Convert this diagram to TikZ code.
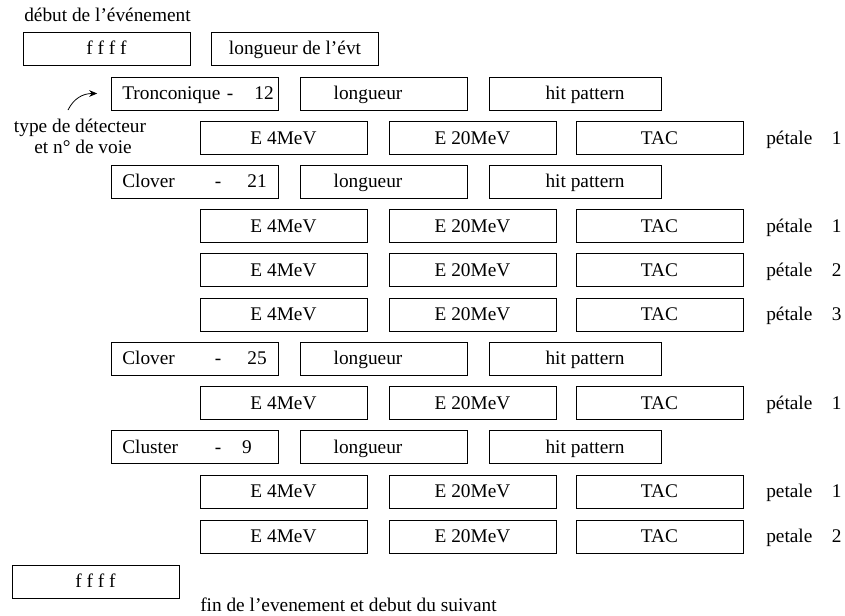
\documentclass[tikz,border=0pt]{standalone}
\usepackage{fontspec}
\setmainfont{Liberation Serif}
\usetikzlibrary{arrows.meta}

\tikzset{
  boite/.style={draw, line width=0.7pt, minimum width=125.25pt, minimum height=24.75pt,
    inner sep=0pt, text height=9.6pt, text depth=0pt},
  texte/.style={anchor=base west, inner sep=0pt},
  fleche/.style={-{Stealth[length=6pt,width=5pt]}, line width=0.6pt},
}

\begin{document}
\begin{tikzpicture}[x=0.75pt,y=-0.75pt,font=\fontsize{14.5}{16}\selectfont]
\useasboundingbox (0,0) rectangle (845,615);

% debut de l'evenement
\node[texte] (debut) at (24,21) {début de l’événement};
\node[boite] (ffff1) at (106.5,48.5) {f f f f};
\node[boite] (lgevt) at (295,48.5) {longueur de l’évt};

% en-tetes des detecteurs
\foreach \y/\nom/\num/\tx/\nx/\tag in {93.5/Tronconique/12/230/274/tronc, 181.5/Clover/21/218/267/clova,
    358.5/Clover/25/218/267/clovb, 447/Cluster/9/218/252/clus} {
  \node[boite] (\tag) at (194.5,\y) {};
  \node[texte] (\tag-nom) at (122,\y+6.4) {\nom};
  \node[anchor=base, inner sep=0pt] (\tag-tiret) at (\tx,\y+6.4) {-};
  \node[anchor=base east, inner sep=0pt] (\tag-num) at (\nx,\y+6.4) {\num};
  \node[boite] (\tag-lg) at (384,\y) {longueur\hspace*{24pt}};
  \node[boite, minimum width=129pt] (\tag-hp) at (575,\y) {\hspace*{15pt}hit pattern};
}

% type de detecteur
\node[anchor=base, inner sep=0pt] (typea) at (80,132.5) {type de détecteur};
\node[anchor=base, inner sep=0pt] (typeb) at (83,153) {et n° de voie};
\coordinate (depfl) at (68,110);
\draw[fleche] (depfl) .. controls +(6,-12) and +(-14,0) .. ([xshift=-10pt]tronc.west);

% voies
\foreach \y/\pw/\n [count=\i] in {138/pétale/1, 226/pétale/1, 270/pétale/2, 314.5/pétale/3,
    403/pétale/1, 491.5/petale/1, 536.5/petale/2} {
  \node[boite] (e4-\i) at (283.5,\y) {E 4MeV};
  \node[boite] (e20-\i) at (472.5,\y) {E 20MeV};
  \node[boite] (tac-\i) at (659.5,\y) {TAC};
  \node[texte] (pet-\i) at (766,\y+6.4) {\pw\quad\n};
}

% fin de l'evenement
\node[boite] (ffff2) at (95.5,581.5) {f f f f};
\node[texte] (fin) at (200,611) {fin de l’evenement et debut du suivant};
\end{tikzpicture}
\end{document}
